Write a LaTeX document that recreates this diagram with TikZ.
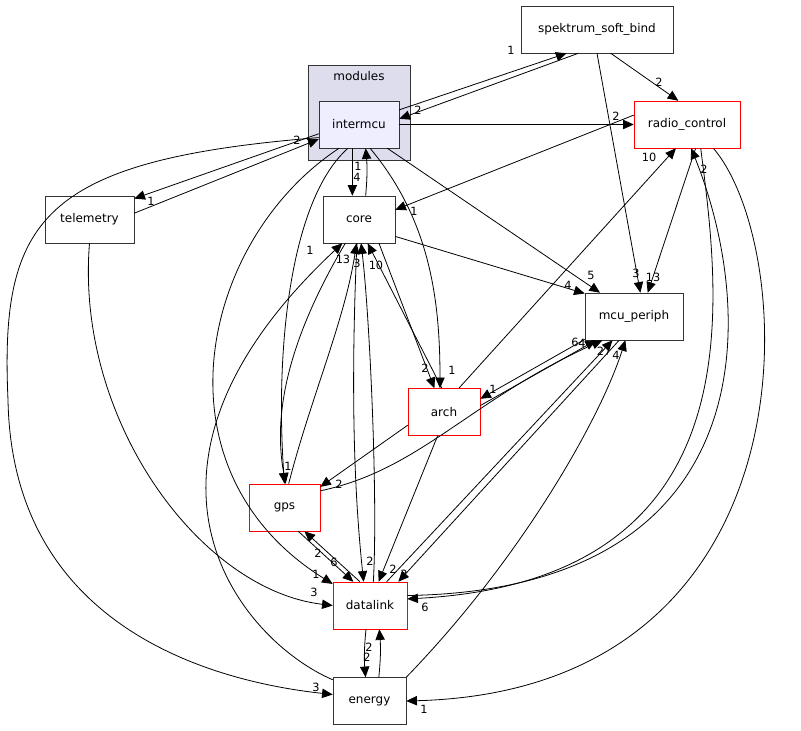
\documentclass[tikz,border=0pt]{standalone}
\usepackage{fontspec}
\setmainfont{DejaVu Sans}
\usepackage{tikz}
\usetikzlibrary{arrows.meta}
\tikzset{
	mod/.style={draw=black!80, fill=white, minimum height=35.25pt, inner sep=0pt, font=\fontsize{9pt}{10pt}\selectfont},
	redmod/.style={mod, draw=red},
	dep/.style={-{Triangle[length=8pt,width=7pt]}, semithick},
	lbl/.style={inner sep=0pt, font=\fontsize{8.5pt}{9pt}\selectfont}
}
\begin{document}
\begin{tikzpicture}[x=0.75pt, y=-0.75pt]
	\useasboundingbox (0,0) rectangle (801,731);

	% Cluster
	\draw[fill={rgb,255:red,221;green,221;blue,238}, draw=black!80] (308,65) rectangle (410,160);
	\node[font=\fontsize{9pt}{10pt}\selectfont] at (359,76) {modules};

	% Nodes
	\node[mod, fill={rgb,255:red,238;green,238;blue,255}, minimum width=60pt] (intermcu) at (359,124.5) {intermcu};
	\node[mod, minimum width=114pt] (spektrum) at (597,29.5) {spektrum\_soft\_bind};
	\node[redmod, minimum width=79.5pt] (radio) at (687,124.5) {radio\_control};
	\node[mod, minimum width=66.75pt] (telemetry) at (89.5,219.5) {telemetry};
	\node[mod, minimum width=54pt] (core) at (359,219.5) {core};
	\node[mod, minimum width=73.5pt] (mcu) at (634,316.5) {mcu\_periph};
	\node[redmod, minimum width=54pt] (arch) at (444,412) {arch};
	\node[redmod, minimum width=53.25pt] (gps) at (284.5,507.5) {gps};
	\node[redmod, minimum width=55.5pt] (datalink) at (370,605.5) {datalink};
	\node[mod, minimum width=54.75pt] (energy) at (369.5,701) {energy};

	% intermcu
	\draw[dep] (intermcu.20) -- (spektrum.218);
	\draw[dep] (spektrum.232) -- (intermcu.8);
	\draw[dep] (intermcu.east) -- (radio.west);
	\draw[dep] (intermcu.193) -- (telemetry.25);
	\draw[dep] (telemetry.8) -- (intermcu.200);
	\draw[dep] ([xshift=-5pt]intermcu.south) -- ([xshift=-5pt]core.north);
	\draw[dep] ([xshift=5pt]core.north) to[bend right=5] ([xshift=5pt]intermcu.south);
	\draw[dep] (intermcu.320) -- (mcu.145);
	\draw[dep] (intermcu.295) .. controls (430,220) and (440,300) .. ([xshift=-3pt]arch.north);
	\draw[dep] (intermcu.245) .. controls (290,200) and (275,350) .. (gps.90);
	\draw[dep] (intermcu.230) .. controls (200,240) and (150,470) .. (datalink.150);
	\draw[dep] (intermcu.198) .. controls (40,160) and (0,220) .. (8,400) .. controls (12,620) and (200,680) .. (energy.170);

	% spektrum_soft_bind, radio_control
	\draw[dep] (spektrum.300) -- (radio.110);
	\draw[dep] (spektrum.270) -- (mcu.75);
	\draw[dep] (radio.170) -- (core.15);
	\draw[dep] (radio.290) -- (mcu.60);
	\draw[dep] (radio.300) .. controls (720,300) and (760,580) .. (datalink.10);
	\draw[dep] (datalink.15) .. controls (760,590) and (760,320) .. (radio.280);
	\draw[dep] (radio.318) .. controls (800,250) and (820,690) .. (energy.east);

	% core, arch
	\draw[dep] (arch.58) -- (radio.245);
	\draw[dep] (core.335) -- (mcu.155);
	\draw[dep] (core.310) -- (arch.112);
	\draw[dep] (arch.95) -- (core.290);
	\draw[dep] (core.240) .. controls (300,320) and (270,400) .. (gps.87);
	\draw[dep] (gps.80) .. controls (310,400) and (345,320) .. (core.264);
	\draw[dep] (core.265) .. controls (350,400) and (355,500) .. (datalink.105);
	\draw[dep] (datalink.82) .. controls (378,500) and (370,320) .. (core.275);
	\draw[dep] (energy.150) .. controls (240,640) and (100,470) .. (core.235);
	\draw[dep] (arch.10) -- (mcu.212);
	\draw[dep] (mcu.205) -- (arch.20);
	\draw[dep] (gps.25) .. controls (420,470) and (470,400) .. (mcu.217);
	\draw[dep] (datalink.55) -- (mcu.228);
	\draw[dep] (mcu.238) -- (datalink.40);
	\draw[dep] (energy.north east) .. controls (520,560) and (600,420) .. (mcu.250);
	\draw[dep] (arch.200) -- (gps.30);
	\draw[dep] (arch.255) -- (datalink.70);

	% gps, telemetry, datalink, energy
	\draw[dep] (gps.300) -- (datalink.125);
	\draw[dep] (datalink.113) -- (gps.310);
	\draw[dep] (telemetry.south) .. controls (75,420) and (200,590) .. (datalink.west);
	\draw[dep] ([xshift=-3pt]datalink.south) to[bend right=5] ([xshift=-3pt]energy.north);
	\draw[dep] ([xshift=7pt]energy.north) to[bend right=5] ([xshift=7pt]datalink.south);

	% Edge labels
	\node[lbl] at (511,50) {1};
	\node[lbl] at (418,110) {2};
	\node[lbl] at (616,116) {2};
	\node[lbl] at (151,201) {1};
	\node[lbl] at (297,140) {2};
	\node[lbl] at (357,177) {4};
	\node[lbl] at (358,166) {1};
	\node[lbl] at (591,275) {5};
	\node[lbl] at (452,370) {1};
	\node[lbl] at (288,466) {1};
	\node[lbl] at (316,574) {1};
	\node[lbl] at (316,687) {3};
	\node[lbl] at (659,82) {2};
	\node[lbl] at (636,273) {3};
	\node[lbl] at (653,277) {13};
	\node[lbl] at (414,211) {1};
	\node[lbl] at (425,607) {6};
	\node[lbl] at (704,169) {2};
	\node[lbl] at (424,709) {1};
	\node[lbl] at (649,157) {10};
	\node[lbl] at (568,285) {4};
	\node[lbl] at (425,368) {2};
	\node[lbl] at (376,265) {10};
	\node[lbl] at (343,259) {13};
	\node[lbl] at (357,263) {3};
	\node[lbl] at (310,250) {1};
	\node[lbl] at (370,561) {2};
	\node[lbl] at (493,389) {1};
	\node[lbl] at (575,342) {6};
	\node[lbl] at (582,343) {4};
	\node[lbl] at (604,351) {27};
	\node[lbl] at (616,355) {4};
	\node[lbl] at (404,574) {3};
	\node[lbl] at (393,569) {2};
	\node[lbl] at (339,484) {2};
	\node[lbl] at (318,553) {2};
	\node[lbl] at (334,562) {6};
	\node[lbl] at (314,592) {3};
	\node[lbl] at (369,647) {2};
	\node[lbl] at (367,657) {2};
\end{tikzpicture}
\end{document}
